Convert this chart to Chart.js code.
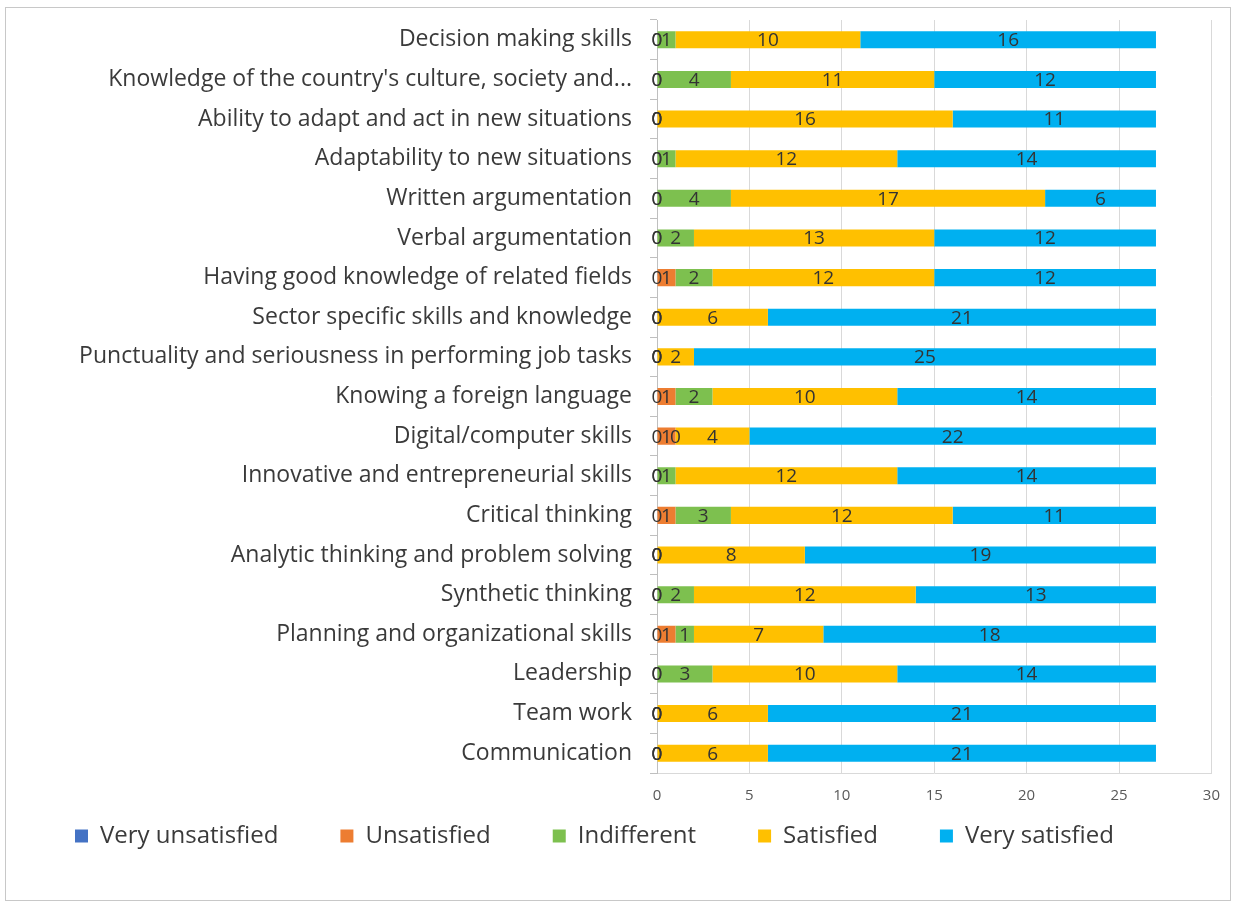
<!DOCTYPE html>
<html>
<head>
<meta charset="utf-8">
<script src="https://cdn.jsdelivr.net/npm/chart.js@4"></script>
<style>
  body { margin: 0; background: #fff; }
  #wrap { position: relative; width: 1234px; height: 902px; }
  #frame { position: absolute; left: 5px; top: 7px; width: 1224px; height: 892px; border: 1px solid #c8c8c8; pointer-events: none; }
</style>
</head>
<body>
<div id="wrap">
  <canvas id="skills"></canvas>
  <div id="frame"></div>
</div>
<script>
const skills = [
  'Decision making skills',
  "Knowledge of the country's culture, society and...",
  'Ability to adapt and act in new situations',
  'Adaptability to new situations',
  'Written argumentation',
  'Verbal argumentation',
  'Having good knowledge of related fields',
  'Sector specific skills and knowledge',
  'Punctuality and seriousness in performing job tasks',
  'Knowing a foreign language',
  'Digital/computer skills',
  'Innovative and entrepreneurial skills',
  'Critical thinking',
  'Analytic thinking and problem solving',
  'Synthetic thinking',
  'Planning and organizational skills',
  'Leadership',
  'Team work',
  'Communication'
];

const veryUnsatisfied = [0, 0, 0, 0, 0, 0, 0, 0, 0, 0, 0, 0, 0, 0, 0, 0, 0, 0, 0];
const unsatisfied     = [0, 0, 0, 0, 0, 0, 1, 0, 0, 1, 1, 0, 1, 0, 0, 1, 0, 0, 0];
const indifferent     = [1, 4, 0, 1, 4, 2, 2, 0, 0, 2, 0, 1, 3, 0, 2, 1, 3, 0, 0];
const satisfied       = [10, 11, 16, 12, 17, 13, 12, 6, 2, 10, 4, 12, 12, 8, 12, 7, 10, 6, 6];
const verySatisfied   = [16, 12, 11, 14, 6, 12, 12, 21, 25, 14, 22, 14, 11, 19, 13, 18, 14, 21, 21];

const xTicks = [0, 5, 10, 15, 20, 25, 30];

const FONT = "'Open Sans', 'DejaVu Sans', sans-serif";

// value labels centred on every segment, zeros included
const segmentLabels = {
  id: 'segmentLabels',
  afterDatasetsDraw(chart) {
    const ctx = chart.ctx;
    ctx.save();
    ctx.font = '19px ' + FONT;
    ctx.fillStyle = '#333333';
    ctx.textAlign = 'center';
    ctx.textBaseline = 'middle';
    chart.data.datasets.forEach((ds, i) => {
      chart.getDatasetMeta(i).data.forEach((bar, j) => {
        const cx = (bar.x + bar.base) / 2;
        ctx.fillText(String(ds.data[j]), cx, bar.y + 1);
      });
    });
    ctx.restore();
  }
};

// legend keeps its wide item spacing but sits right under the axis
const liftLegend = {
  id: 'liftLegend',
  afterLayout(chart) {
    const lg = chart.legend;
    if (lg) { lg.top -= 57; lg.bottom -= 57; }
  }
};

new Chart(document.getElementById('skills'), {
  type: 'bar',
  data: {
    labels: skills,
    datasets: [
      { label: 'Very unsatisfied', data: veryUnsatisfied, backgroundColor: '#4472C4' },
      { label: 'Unsatisfied', data: unsatisfied, backgroundColor: '#ED7D31' },
      { label: 'Indifferent', data: indifferent, backgroundColor: '#7DC04F' },
      { label: 'Satisfied', data: satisfied, backgroundColor: '#FFC000' },
      { label: 'Very satisfied', data: verySatisfied, backgroundColor: '#00B0F0' }
    ]
  },
  options: {
    indexAxis: 'y',
    responsive: true,
    maintainAspectRatio: false,
    animation: false,
    datasets: {
      bar: { categoryPercentage: 1, barPercentage: 0.43, borderWidth: 0 }
    },
    layout: { padding: { top: 20, right: 22, left: 13, bottom: -13 } },
    scales: {
      x: {
        stacked: true,
        min: 0,
        max: 30,
        afterBuildTicks(scale) { scale.ticks = xTicks.map(v => ({ value: v })); },
        grid: { color: '#d9d9d9', drawTicks: false },
        border: { color: '#d9d9d9' },
        ticks: {
          padding: 14,
          color: '#595959',
          font: { family: "'Liberation Sans Narrow', 'Open Sans', sans-serif", size: 15 }
        }
      },
      y: {
        stacked: true,
        afterFit(scale) {
          scale.width = 644;
          scale.paddingTop = 0;
          scale.paddingBottom = 0;
        },
        grid: { drawOnChartArea: false, tickLength: 7, color: '#bfbfbf' },
        border: { color: '#bfbfbf' },
        ticks: {
          padding: 18,
          color: '#3a3a3a',
          font: { family: FONT, size: 23 }
        }
      }
    },
    plugins: {
      legend: {
        position: 'bottom',
        align: 'start',
        labels: {
          boxWidth: 13,
          boxHeight: 13,
          padding: 62,
          color: '#3a3a3a',
          font: { family: FONT, size: 24 }
        }
      },
      tooltip: { enabled: false }
    }
  },
  plugins: [segmentLabels, liftLegend]
});
</script>
</body>
</html>
